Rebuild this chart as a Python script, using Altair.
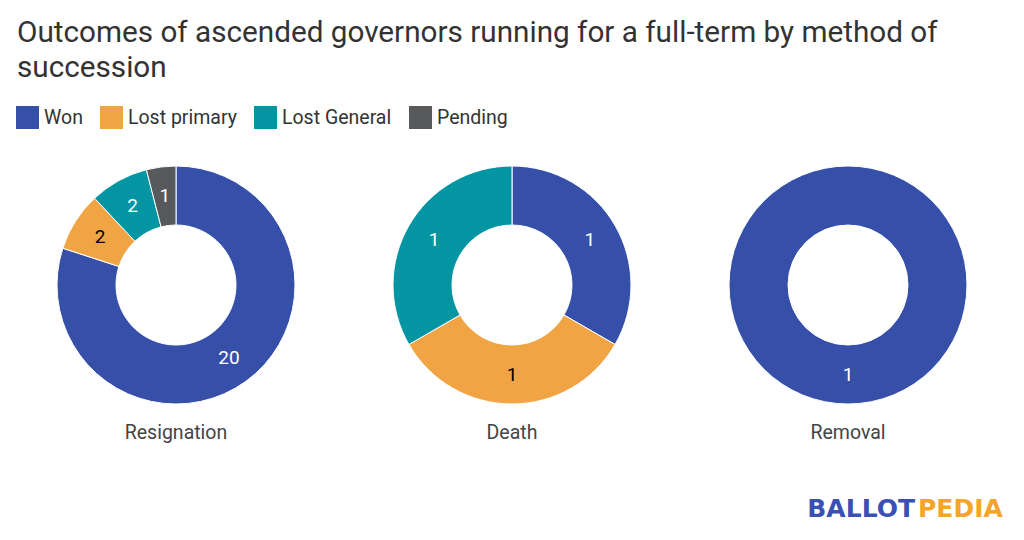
import altair as alt
import pandas as pd

methods = ["Resignation", "Death", "Removal"]
outcomes = ["Won", "Lost primary", "Lost General", "Pending"]
colors = ["#364fa9", "#f0a443", "#0495a3", "#58595b"]
resignation_counts = [20, 2, 2, 1]
death_counts = [1, 1, 1, 0]
removal_counts = [1, 0, 0, 0]
logo_words = ["BALLOT", "PEDIA"]
logo_colors = ["#3a50b4", "#f5a62a"]

rows = []
for m, counts in zip(methods, [resignation_counts, death_counts, removal_counts]):
    for i, (o, c) in enumerate(zip(outcomes, counts)):
        if c > 0:
            rows.append({"method": m, "outcome": o, "value": c, "order": i})
df = pd.DataFrame(rows)

CY = 135
xscale = alt.Scale(domain=methods, padding=0.5)

base = alt.Chart(df).transform_joinaggregate(
    total="sum(value)", groupby=["method"]
).transform_window(
    cum="sum(value)", groupby=["method"], sort=[alt.SortField("order")],
    frame=[None, 0]
).transform_calculate(
    t1="datum.cum / datum.total",
    t0="(datum.cum - datum.value) / datum.total",
    tm="(datum.cum - datum.value / 2) / datum.total",
    tcolor="datum.outcome == 'Lost primary' ? 'black' : 'white'",
)

thscale = alt.Scale(domain=[0, 1], range=[0, 6.283185307179586])

arcs = base.mark_arc(innerRadius=60, outerRadius=119, stroke="white", strokeWidth=1).encode(
    x=alt.X("method:N", scale=xscale, axis=None),
    y=alt.value(CY),
    theta=alt.Theta("t0:Q", scale=thscale),
    theta2="t1:Q",
    color=alt.Color(
        "outcome:N",
        scale=alt.Scale(domain=outcomes, range=colors),
        legend=alt.Legend(
            title=None, orient="none", legendX=8, legendY=-44,
            direction="horizontal",
            symbolType="square", symbolSize=529, symbolStrokeWidth=0,
            symbolOpacity=1, labelFontSize=19.5, labelFont="Roboto",
            labelColor="#333333", columnPadding=17, labelOffset=5,
        ),
    ),
)

labels = base.mark_text(font="Roboto", fontSize=19, baseline="middle", align="center").encode(
    x=alt.X("method:N", scale=xscale, axis=None),
    y=alt.value(CY),
    theta=alt.Theta("tm:Q", scale=thscale),
    radius=alt.value(90),
    text="value:Q",
    color=alt.Color("tcolor:N", scale=None),
)

cat = alt.Chart(pd.DataFrame({"method": methods})).mark_text(
    font="Roboto", fontSize=19.5, color="#444444", baseline="middle"
).encode(
    x=alt.X("method:N", scale=xscale, axis=None),
    y=alt.value(283),
    text="method:N",
)

logo_df = pd.DataFrame({"w": logo_words, "c": logo_colors})
logo1 = alt.Chart(logo_df.iloc[[0]]).mark_text(
    font="DejaVu Sans", fontWeight="bold", fontSize=25, align="right", baseline="alphabetic"
).encode(x=alt.value(907), y=alt.value(367), text="w:N", color=alt.Color("c:N", scale=None))
logo2 = alt.Chart(logo_df.iloc[[1]]).mark_text(
    font="DejaVu Sans", fontWeight="bold", fontSize=25, align="left", baseline="alphabetic"
).encode(x=alt.value(910), y=alt.value(367), text="w:N", color=alt.Color("c:N", scale=None))

chart = alt.layer(arcs, labels, cat, logo1, logo2).properties(
    width=1008, height=380,
    padding={"left": 0, "right": 0, "top": 10, "bottom": 0},
    title=alt.Title(
        ["Outcomes of ascended governors running for a full-term by method of", "succession"],
        anchor="start", frame="group", fontSize=29.7, font="Roboto", fontWeight="normal",
        color="#333333", lineHeight=35, dx=9, offset=22,
    ),
).configure_view(stroke=None)

chart.save("out.html", embed_options={"renderer": "svg", "actions": False})
